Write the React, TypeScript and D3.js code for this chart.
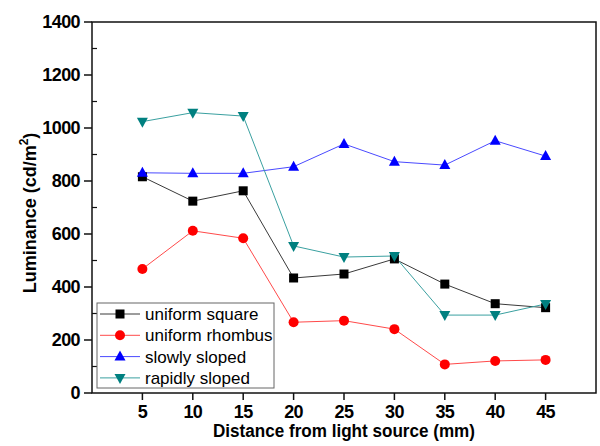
import React from "react";
import * as d3 from "d3";

const distances = [5, 10, 15, 20, 25, 30, 35, 40, 45];
const uniformSquare = [816, 724, 763, 434, 449, 506, 411, 337, 322];
const uniformRhombus = [468, 612, 584, 267, 273, 241, 108, 121, 125];
const slowlySloped = [831, 829, 829, 854, 940, 873, 860, 952, 894];
const rapidlySloped = [1024, 1058, 1045, 555, 513, 517, 294, 294, 336];
const xTicks = [5, 10, 15, 20, 25, 30, 35, 40, 45];
const yTicks = [0, 200, 400, 600, 800, 1000, 1200, 1400];
const yMinorTicks = [100, 300, 500, 700, 900, 1100, 1300];

const series = [
  { name: "uniform square", values: uniformSquare, marker: "square", fill: "#000000", line: "#3a3a3a" },
  { name: "uniform rhombus", values: uniformRhombus, marker: "circle", fill: "#ff0000", line: "#ff4a4a" },
  { name: "slowly sloped", values: slowlySloped, marker: "up", fill: "#0000ff", line: "#4a4aff" },
  { name: "rapidly sloped", values: rapidlySloped, marker: "down", fill: "#008080", line: "#3aa0a0" },
];

const W = 600, H = 446;
const L = 92, R = 596, T = 22, B = 393;

function Marker({ type, x, y, fill }: { type: string; x: number; y: number; fill: string }) {
  if (type === "square") return <rect x={x - 4.5} y={y - 4.5} width={9} height={9} fill={fill} />;
  if (type === "circle") return <circle cx={x} cy={y} r={5} fill={fill} />;
  if (type === "up")
    return <path d={`M${x},${y - 6} L${x + 5.5},${y + 4} L${x - 5.5},${y + 4} Z`} fill={fill} />;
  return <path d={`M${x},${y + 6} L${x + 5.5},${y - 4} L${x - 5.5},${y - 4} Z`} fill={fill} />;
}

export default function App() {
  const x = d3.scaleLinear().domain([0, 50]).range([L, R]);
  const y = d3.scaleLinear().domain([0, 1400]).range([B, T]);
  const line = d3
    .line<number>()
    .x((_, i) => x(distances[i]))
    .y((d) => y(d));
  const font = "'Liberation Sans', Arial, sans-serif";
  const legX = 97, legY = 303, legW = 177, legH = 85;
  return (
    <svg width={W} height={H} style={{ position: "absolute", left: 0, top: 0, background: "#fff" }} fontFamily={font}>
      <rect x={0} y={0} width={W} height={H} fill="#fff" />
      {series.map((s) => (
        <path key={s.name + "l"} d={line(s.values) || ""} fill="none" stroke={s.line} strokeWidth={1} />
      ))}
      {series.map((s) =>
        s.values.map((v, i) => (
          <Marker key={s.name + i} type={s.marker} x={x(distances[i])} y={y(v)} fill={s.fill} />
        ))
      )}
      <rect x={L} y={T} width={R - L} height={B - T} fill="none" stroke="#111" strokeWidth={1.5} />
      {yTicks.map((t) => (
        <g key={"y" + t}>
          <line x1={L - 8} x2={L} y1={y(t)} y2={y(t)} stroke="#111" strokeWidth={1.5} />
          <text x={80} y={y(t)} dy="0.36em" textAnchor="end" fontSize={18} fontWeight="bold" letterSpacing={-0.6}>
            {t}
          </text>
        </g>
      ))}
      {yMinorTicks.map((t) => (
        <line key={"ym" + t} x1={L} x2={L + 5} y1={y(t)} y2={y(t)} stroke="#111" strokeWidth={1.2} />
      ))}
      {xTicks.map((t) => (
        <g key={"x" + t}>
          <line x1={x(t)} x2={x(t)} y1={B} y2={B + 7} stroke="#111" strokeWidth={1.5} />
          <text x={x(t)} y={418} textAnchor="middle" fontSize={18} fontWeight="bold" letterSpacing={-0.6}>
            {t}
          </text>
        </g>
      ))}
      <text x={(L + R) / 2} y={437} textAnchor="middle" fontSize={18} fontWeight="bold" textLength={262} lengthAdjust="spacingAndGlyphs">
        Distance from light source (mm)
      </text>
      <text transform={`translate(36,213) rotate(-90)`} textAnchor="middle" fontSize={18} fontWeight="bold">
        Luminance (cd/m
        <tspan fontSize={12} dy={-8}>2</tspan>
        <tspan dy={8}>)</tspan>
      </text>
      <rect x={legX} y={legY} width={legW} height={legH} fill="#fff" stroke="#666" strokeWidth={1} />
      {series.map((s, i) => {
        const cy = 314 + i * 21.3;
        return (
          <g key={s.name + "leg"}>
            <line x1={100} x2={140} y1={cy} y2={cy} stroke={s.line} strokeWidth={1} />
            <Marker type={s.marker} x={120} y={cy} fill={s.fill} />
            <text x={145} y={cy} dy="0.36em" fontSize={17}>
              {s.name}
            </text>
          </g>
        );
      })}
    </svg>
  );
}
